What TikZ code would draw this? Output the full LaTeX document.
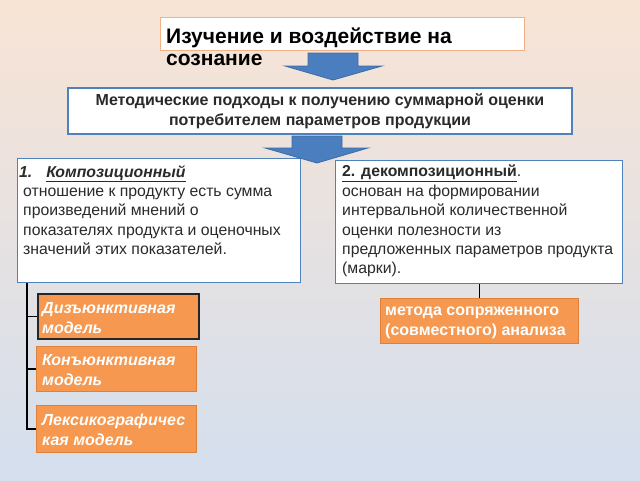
\documentclass[tikz,border=0pt]{standalone}
\usepackage{fontspec}
\setmainfont{Liberation Sans}
\definecolor{bgtop}{HTML}{F8E4D5}
\definecolor{bgmid}{HTML}{E9E5E8}
\definecolor{bgbot}{HTML}{D4DFEE}
\definecolor{bblue}{HTML}{4F81BD}
\definecolor{ablue}{HTML}{4A7EBF}
\definecolor{aedge}{HTML}{3D6CA8}
\definecolor{oborder}{HTML}{F2B187}
\definecolor{ofill}{HTML}{F6984F}
\definecolor{oedge}{HTML}{DE8038}
\definecolor{txt}{HTML}{2A2A2A}
\tikzset{
  wbox/.style={draw=bblue, line width=1.3pt, fill=white, inner sep=0pt, anchor=north west},
  obox/.style={draw=oedge, line width=1.2pt, fill=ofill, inner sep=0pt, anchor=north west},
  otext/.style={anchor=north west, inner sep=0pt, align=left, text=white, font=\bfseries\fontsize{16}{20}\selectfont},
  btext/.style={anchor=north west, inner sep=0pt, align=left, text=txt, font=\fontsize{15.8}{19.4}\selectfont},
  conn/.style={draw=black, line width=1.5pt},
  blockarrow/.style={fill=ablue, draw=aedge, line width=0.8pt}
}
\begin{document}
\begin{tikzpicture}[x=1pt,y=-1pt]
\shade[top color=bgtop, middle color=bgmid, bottom color=bgbot] (0,0) rectangle (640,480);
\useasboundingbox (0,0) rectangle (640,480);

% top box
\node[wbox, draw=oborder, minimum width=364pt, minimum height=33pt] (top) at (160,17) {};
\node[anchor=north west, inner sep=0pt, align=left, font=\bfseries\fontsize{21}{21.5}\selectfont] (toptext) at (166,28) {Изучение и воздействие на\\сознание};

% methods box
\node[wbox, anchor=center, minimum width=504pt, minimum height=46pt, align=center,
      font=\bfseries\fontsize{16}{20}\selectfont, text=txt] (meth) at (320,111)
  {Методические подходы к получению суммарной оценки\\потребителем параметров продукции};

% left box
\node[wbox, minimum width=283pt, minimum height=124pt] (comp) at (17,158) {};
\node[btext] (comptext) at (19,165)
  {\textbf{\textit{1.\hspace{14pt}\underline{Композиционный}}}\\
   \hspace{4pt}отношение к продукту есть сумма\\
   \hspace{4pt}произведений мнений о\\
   \hspace{4pt}показателях продукта и оценочных\\
   \hspace{4pt}значений этих показателей.};

% right box
\node[wbox, minimum width=287pt, minimum height=123pt] (decomp) at (335,160) {};
\node[btext] (decomptext) at (342,165)
  {\textbf{\underline{2. декомпозиционный}}.\\
   основан на формировании\\
   интервальной количественной\\
   оценки полезности из\\
   предложенных параметров продукта\\
   (марки).};

% orange boxes
\node[obox, draw=black!85, line width=1.6pt, minimum width=161pt, minimum height=45pt] (dis) at (37,293) {};
\node[otext] (distext) at (42,302) {\itshape Дизъюнктивная\\\itshape модель};
\node[obox, minimum width=160pt, minimum height=45pt] (kon) at (36,346) {};
\node[otext] (kontext) at (42,354) {\itshape Конъюнктивная\\\itshape модель};
\node[obox, minimum width=160pt, minimum height=47pt] (lex) at (36,405) {};
\node[otext] (lextext) at (42,414) {\itshape Лексикографичес\\\itshape кая модель};
\node[obox, minimum width=198pt, minimum height=45pt] (conj) at (380,298) {};
\node[otext] (conjtext) at (385,307) {метода сопряженного\\(совместного) анализа};

% connectors
\draw[conn] ([xshift=10pt]comp.south west) |- (dis.west);
\draw[conn] ([xshift=10pt]comp.south west) |- (kon.west);
\draw[conn] ([xshift=10pt]comp.south west) |- (lex.west);
\draw[conn] (decomp.south -| conj.north) -- (conj.north);

% block arrows
\draw[blockarrow] (308,53) -- (358,53) -- (358,66) -- (382,66) -- (333,80) -- (285,66) -- (308,66) -- cycle;
\draw[blockarrow] (292,136) -- (342,136) -- (342,148) -- (368,148) -- (317,163) -- (265,148) -- (292,148) -- cycle;
\end{tikzpicture}
\end{document}
